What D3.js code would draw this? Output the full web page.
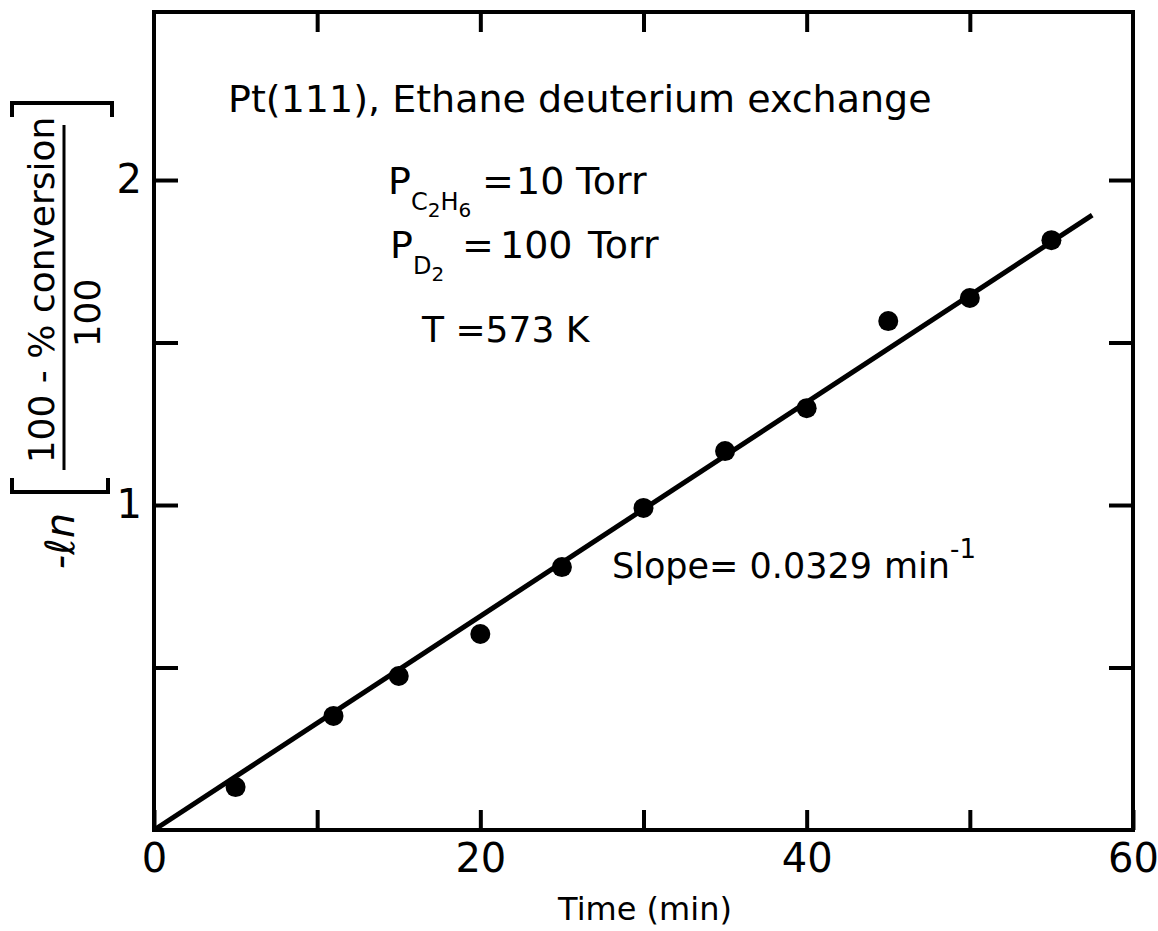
<!DOCTYPE html>
<html>
<head>
<meta charset="utf-8">
<script src="https://cdn.jsdelivr.net/npm/d3@7"></script>
<style>
	body { margin: 0; background: #fff; }
	svg text { font-family: 'DejaVu Sans', sans-serif; fill: #000; }
</style>
</head>
<body>
<svg width="1158" height="931"></svg>
<script>
// data
const times = [5, 11, 15, 20, 25, 30, 35, 40, 45, 50, 55]
const lnValues = [0.132, 0.351, 0.474, 0.603, 0.809, 0.991, 1.166, 1.298, 1.566, 1.637, 1.815]
const fitX = [0, 57.5]
const fitY = [0, 1.892]
const xTicks = [0, 10, 20, 30, 40, 50, 60]
const xLabels = [0, 20, 40, 60]
const yTicks = [0.5, 1, 1.5, 2]
const yLabels = [1, 2]

const svg = d3.select('svg')
const x = d3.scaleLinear().domain([0, 60]).range([154, 1133])
const y = d3.scaleLinear().domain([0, 2.517]).range([830, 12])

// frame
svg.append('rect')
	.attr('x', x(0)).attr('y', y(2.517))
	.attr('width', x(60) - x(0)).attr('height', y(0) - y(2.517))
	.attr('fill', 'none').attr('stroke', '#000').attr('stroke-width', 4)

const styleAxis = g => {
	g.select('.domain').remove()
	g.selectAll('.tick line').attr('stroke', '#000').attr('stroke-width', 4)
	g.selectAll('.tick text').style('font-size', '40px').attr('fill', '#000')
}

svg.append('g')
	.attr('transform', `translate(0,${y(0)})`)
	.call(d3.axisBottom(x).tickValues(xTicks).tickSize(-20).tickPadding(14)
		.tickFormat(d => xLabels.includes(d) ? d : ''))
	.call(styleAxis)

svg.append('g')
	.attr('transform', `translate(0,${y(2.517)})`)
	.call(d3.axisTop(x).tickValues(xTicks.slice(1, -1)).tickSize(-20).tickFormat(''))
	.call(styleAxis)

svg.append('g')
	.attr('transform', `translate(${x(0)},0)`)
	.call(d3.axisLeft(y).tickValues(yTicks).tickSize(-24).tickPadding(12)
		.tickFormat(d => yLabels.includes(d) ? d : ''))
	.call(styleAxis)

svg.append('g')
	.attr('transform', `translate(${x(60)},0)`)
	.call(d3.axisRight(y).tickValues(yTicks).tickSize(-24).tickFormat(''))
	.call(styleAxis)

// fitted line
svg.append('path')
	.datum(fitX.map((d, i) => [d, fitY[i]]))
	.attr('d', d3.line().x(d => x(d[0])).y(d => y(d[1])))
	.attr('fill', 'none').attr('stroke', '#000').attr('stroke-width', 5)

// points
svg.selectAll('circle.pt')
	.data(times.map((t, i) => ({ t, v: lnValues[i] })))
	.join('circle')
	.attr('class', 'pt')
	.attr('cx', d => x(d.t)).attr('cy', d => y(d.v))
	.attr('r', 10).attr('fill', '#000')

// x title
svg.append('text')
	.attr('x', 645).attr('y', 920)
	.attr('text-anchor', 'middle')
	.style('font-size', '32px')
	.text('Time (min)')

// y title (rotated)
const yt = svg.append('g').attr('transform', 'rotate(-90)')
yt.append('text')
	.attr('x', -541).attr('y', 74)
	.attr('text-anchor', 'middle')
	.style('font-size', '40px').style('font-style', 'italic')
	.text('-ℓn')
yt.append('path')
	.attr('d', 'M-478,12 H-492 V108 H-478')
	.attr('fill', 'none').attr('stroke', '#000').attr('stroke-width', 4)
yt.append('path')
	.attr('d', 'M-117,12 H-103 V112 H-117')
	.attr('fill', 'none').attr('stroke', '#000').attr('stroke-width', 4)
yt.append('text')
	.attr('x', -290).attr('y', 54)
	.attr('text-anchor', 'middle')
	.style('font-size', '36px')
	.text('100 - % conversion')
yt.append('line')
	.attr('x1', -470).attr('x2', -125).attr('y1', 64).attr('y2', 64)
	.attr('stroke', '#000').attr('stroke-width', 3)
yt.append('text')
	.attr('x', -313).attr('y', 100)
	.attr('text-anchor', 'middle')
	.style('font-size', '36px')
	.text('100')

// annotations
const note = svg.append('g').style('font-size', '38px')
note.append('text').attr('x', 228).attr('y', 112)
	.text('Pt(111), Ethane deuterium exchange')

const p1 = note.append('text').attr('x', 388).attr('y', 194)
p1.append('tspan').text('P')
p1.append('tspan').attr('dy', 16).style('font-size', '24px').text('C')
p1.append('tspan').attr('dy', 7).style('font-size', '20px').text('2')
p1.append('tspan').attr('dy', -7).style('font-size', '24px').text('H')
p1.append('tspan').attr('dy', 7).style('font-size', '20px').text('6')
p1.append('tspan').attr('dy', -23).attr('x', 482).text('=')
p1.append('tspan').attr('x', 516).text('10')
p1.append('tspan').attr('x', 576).text('Torr')

const p2 = note.append('text').attr('x', 390).attr('y', 258)
p2.append('tspan').text('P')
p2.append('tspan').attr('dy', 16).style('font-size', '24px').text('D')
p2.append('tspan').attr('dy', 7).style('font-size', '20px').text('2')
p2.append('tspan').attr('dy', -23).attr('x', 462).text('=')
p2.append('tspan').attr('x', 500).text('100')
p2.append('tspan').attr('x', 588).text('Torr')

note.append('text').attr('x', 422).attr('y', 342).style('font-size', '36px').text('T =573 K')

const sl = note.append('text').attr('x', 612).attr('y', 578).style('font-size', '35px')
sl.append('tspan').text('Slope= 0.0329')
sl.append('tspan').attr('x', 884).text('min')
sl.append('tspan').attr('dy', -20).style('font-size', '26px').text('-1')
</script>
</body>
</html>
